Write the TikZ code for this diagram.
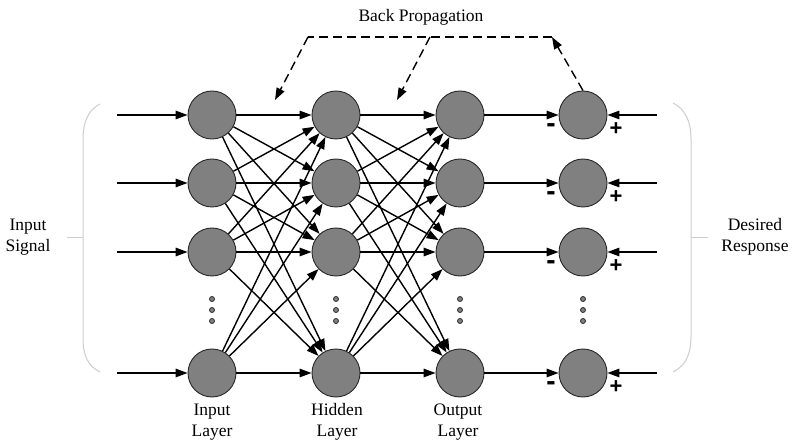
\documentclass[tikz,border=0pt]{standalone}
\usepackage{fontspec}
\setmainfont{Liberation Serif}
\newfontfamily\signfont{Liberation Sans}
\usetikzlibrary{arrows.meta}
\definecolor{nfill}{RGB}{128,128,128}
\definecolor{nedge}{RGB}{40,40,40}
\definecolor{brack}{RGB}{205,205,205}
\begin{document}
\begin{tikzpicture}[x=1pt,y=-1pt,
  neuron/.style={circle, draw=nedge, fill=nfill, minimum size=48pt, inner sep=0pt, line width=0.9pt},
  conn/.style={-{Triangle[length=12pt,width=8.5pt]}, line width=1.4pt, black},
  bpline/.style={line width=1.4pt, dash pattern=on 9pt off 5pt, black},
  bparrow/.style={bpline, -{Triangle[length=12pt,width=8.5pt]}},
  dotmark/.style={circle, draw=nedge, fill=nfill, minimum size=5pt, inner sep=0pt, line width=0.8pt},
  lbl/.style={align=center, font=\fontsize{17.5}{21}\selectfont, inner sep=0pt},
  minussign/.style={font=\signfont\bfseries\fontsize{28}{28}\selectfont, inner sep=0pt},
  plussign/.style={font=\signfont\bfseries\fontsize{22}{22}\selectfont, inner sep=0pt},
  brk/.style={draw=brack, line width=1pt}
]
\useasboundingbox (0,0) rectangle (792,443);

% neurons
\foreach \r/\y in {1/115,2/183,3/252,4/373}{
  \node[neuron] (i\r) at (212,\y) {};
  \node[neuron] (h\r) at (336,\y) {};
  \node[neuron] (o\r) at (460,\y) {};
  \node[neuron] (e\r) at (583,\y) {};
  \coordinate (s\r) at (117,\y);
  \coordinate (d\r) at (657,\y);
}

% dots
\foreach \x/\c in {212/a,336/b,460/c,583/d}{
  \foreach \k/\y in {1/299,2/310,3/321}{
    \node[dotmark] (dot\c\k) at (\x,\y) {};
  }
}

% input, output and desired-response arrows
\foreach \r in {1,2,3,4}{
  \draw[conn] (s\r) -- (i\r);
  \draw[conn] (o\r) -- (e\r);
  \draw[conn] (d\r) -- (e\r);
}

% full connections
\foreach \a in {1,2,3,4}{
  \foreach \b in {1,2,3,4}{
    \draw[conn] (i\a) -- (h\b);
    \draw[conn] (h\a) -- (o\b);
  }
}

% signs
\foreach \r in {1,2,3,4}{
  \node[minussign] (minus\r) at ([xshift=-32pt,yshift=-13pt]e\r.center) {-};
  \node[plussign] (plus\r) at ([xshift=33pt,yshift=-14pt]e\r.center) {+};
}

% back propagation
\coordinate (bpA) at (552,37);
\coordinate (bpB) at (308,37);
\coordinate (bpC) at (430,37);
\coordinate (bpT1) at (275,100);
\coordinate (bpT2) at (397,100);
\draw[bparrow] (e1.north) -- (bpA);
\draw[bpline] (bpA) -- (bpB);
\draw[bparrow] (bpB) -- (bpT1);
\draw[bparrow] (bpC) -- (bpT2);
\node[lbl] (bptext) at (421,17) {Back Propagation};

% brackets
\draw[brk] (100,104) .. controls (88,110) and (83,122) .. (83,140) -- (83,338)
  .. controls (83,356) and (88,366) .. (100,372);
\draw[brk] (67,238) -- (83,238);
\draw[brk] (673,103) .. controls (685,109) and (691,121) .. (691,139) -- (691,337)
  .. controls (691,355) and (685,366) .. (673,372);
\draw[brk] (691,238) -- (708,238);

% labels
\node[lbl] (insig) at (28,237) {Input\\Signal};
\node[lbl] (desr) at (755,237) {Desired\\Response};
\node[lbl] (inl) at (212,422) {Input\\Layer};
\node[lbl] (hidl) at (337,422) {Hidden\\Layer};
\node[lbl] (outl) at (458,422) {Output\\Layer};
\end{tikzpicture}
\end{document}
